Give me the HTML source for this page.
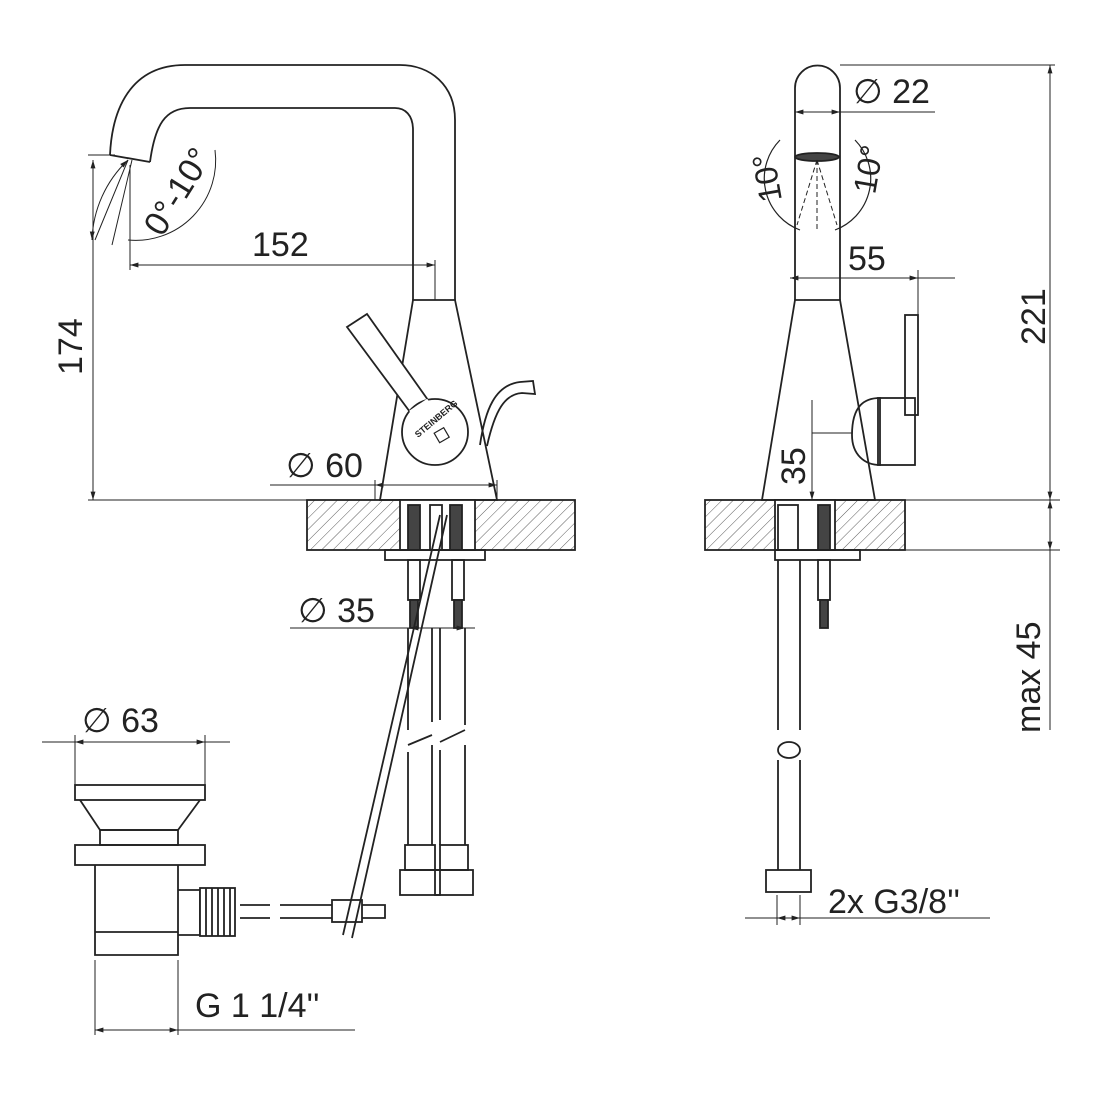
<!DOCTYPE html>
<html><head><meta charset="utf-8"><style>
html,body{margin:0;padding:0;background:#fff}
svg{display:block}
text{font-family:"Liberation Sans",sans-serif;fill:#222}
</style></head><body>
<svg width="1097" height="1097" viewBox="0 0 1097 1097" xmlns="http://www.w3.org/2000/svg">
<defs>
<pattern id="h" width="8" height="8" patternUnits="userSpaceOnUse" patternTransform="rotate(45)">
<line x1="0" y1="0" x2="0" y2="8" stroke="#333" stroke-width="0.8"/>
</pattern>
<marker id="a" viewBox="0 0 12 10" refX="12" refY="5" markerWidth="12" markerHeight="7" markerUnits="userSpaceOnUse" orient="auto-start-reverse"><path d="M0,1.5 L12,5 L0,8.5 Z" fill="#222"/></marker>
</defs>
<g fill="none" stroke="#222" stroke-width="1.8">
<!-- LEFT FAUCET -->
<path d="M110,155 C112,110 130,65 185,65 L400,65 C430,65 455,85 455,120 L455,300"/>
<path d="M150,162 C155,125 165,108 190,108 L395,108 C405,108 413,115 413,130 L413,300"/>
<path d="M110,155 L150,162"/>
<path d="M413,300 L455,300 L497,500 L380,500 Z"/>
<!-- lever -->
<path d="M410,412 L347,327 L367,314 L428,400" fill="#fff"/>
<circle cx="435" cy="432" r="33" fill="#fff"/>
<path d="M410,412 L428,400" stroke="#fff" stroke-width="3"/>
<text x="0" y="0" font-size="9" font-weight="bold" transform="translate(418,438) rotate(-40)" stroke="none">STEINBERG</text>
<rect x="436" y="430" width="11" height="11" transform="rotate(-30 441 435)" stroke-width="1.2"/>
<!-- pop-up rod -->
<path d="M480,445 C485,410 495,385 520,382 L533,381 L535,394 L522,393 C505,394 495,410 487,446"/>
<!-- countertop -->
<rect x="307" y="500" width="268" height="50" fill="url(#h)"/>
<rect x="400" y="500" width="75" height="50" fill="#fff"/>
<rect x="408" y="505" width="12" height="45" fill="#444"/>
<rect x="450" y="505" width="12" height="45" fill="#444"/>
<rect x="430" y="505" width="12" height="45"/>
<rect x="385" y="550" width="100" height="10"/>
<rect x="408" y="560" width="12" height="40"/><rect x="452" y="560" width="12" height="40"/>
<rect x="410" y="600" width="8" height="28" fill="#444"/><rect x="454" y="600" width="8" height="28" fill="#444"/>
<!-- hoses -->
<path d="M408,628 L408,730 M432,628 L432,722 M440,628 L440,720 M465,628 L465,725"/>
<path d="M408,752 L408,845 M432,745 L432,845 M440,750 L440,845 M465,745 L465,845"/>
<path d="M408,745 L432,735 M440,742 L465,730"/>
<rect x="405" y="845" width="30" height="25"/><rect x="440" y="845" width="28" height="25"/>
<rect x="400" y="870" width="40" height="25"/><rect x="435" y="870" width="38" height="25"/>
<!-- long rod -->
<path d="M440,515 L343,935 M447,515 L352,938"/>
<rect x="332" y="900" width="30" height="22"/>
<path d="M240,905 L270,905 M240,918 L270,918 M280,905 L332,905 M280,918 L332,918 M362,905 L385,905 L385,918 L362,918"/>
<!-- drain -->
<rect x="75" y="785" width="130" height="15"/>
<path d="M80,800 L100,830 L178,830 L200,800"/>
<rect x="100" y="830" width="78" height="15"/>
<rect x="75" y="845" width="130" height="20"/>
<path d="M95,865 L95,955 L178,955 L178,865 M95,932 L178,932"/>
<path d="M178,890 L200,890 L200,935 L178,935"/>
<rect x="200" y="888" width="35" height="48" fill="#fff"/>
<path d="M206,888 V936 M212,888 V936 M218,888 V936 M224,888 V936 M230,888 V936"/>
<!-- RIGHT FAUCET -->
<path d="M795,300 L795,88 A22.5,22.5 0 0 1 840,88 L840,300"/>
<path d="M795,300 L840,300 L875,500 L762,500 Z"/>
<ellipse cx="817" cy="157" rx="22" ry="4" fill="#444"/>
<path d="M817,160 L797,225 M817,160 L837,225 M817,160 L817,230" stroke-dasharray="5,3" stroke-width="1"/>
<path d="M780,140 A55,55 0 0 0 800,230" stroke-width="1.2"/>
<path d="M855,140 A55,55 0 0 1 835,230" stroke-width="1.2"/>
<path d="M852,435 C852,405 865,398 880,398 L880,465 C865,465 852,455 852,435 Z"/>
<rect x="878" y="398" width="37" height="67"/>
<rect x="905" y="315" width="13" height="100"/>
<rect x="705" y="500" width="200" height="50" fill="url(#h)"/>
<rect x="775" y="500" width="60" height="50" fill="#fff"/>
<rect x="778" y="505" width="20" height="45"/>
<rect x="818" y="505" width="12" height="45" fill="#444"/>
<rect x="775" y="550" width="85" height="10"/>
<rect x="818" y="560" width="12" height="40"/><rect x="820" y="600" width="8" height="28" fill="#444"/>
<path d="M778,560 V730 M800,560 V730 M778,760 V870 M800,760 V870"/>
<ellipse cx="789" cy="750" rx="11" ry="8"/>
<rect x="766" y="870" width="45" height="22"/>
</g>
<!-- DIMENSIONS -->
<g fill="none" stroke="#222" stroke-width="1">
<path d="M88,500 H500 M88,155 H115"/>
<path d="M93,160 V500" marker-start="url(#a)" marker-end="url(#a)"/>
<path d="M130,265 H435" marker-start="url(#a)" marker-end="url(#a)"/>
<path d="M130,165 V270 M435,260 V300"/>
<path d="M375,485 H497" marker-start="url(#a)" marker-end="url(#a)"/>
<path d="M270,485 H375 M375,480 V500 M497,480 V500"/>
<path d="M290,628 H408 M408,628 H475" />
<path d="M410,628 H465" marker-start="url(#a)" marker-end="url(#a)"/>
<path d="M75,742 H205" marker-start="url(#a)" marker-end="url(#a)"/>
<path d="M42,742 H230 M75,735 V785 M205,735 V785"/>
<path d="M95,1030 H178" marker-start="url(#a)" marker-end="url(#a)"/>
<path d="M95,960 V1035 M178,960 V1035 M178,1030 H355"/>
<path d="M128,160 A115,115 0 0 0 92,240" marker-start="url(#a)" marker-end="url(#a)"/>
<path d="M128,160 L95,240 M132,160 L112,245"/>
<path d="M128,240 A80,80 0 0 0 215,150"/>
<path d="M795,112 H840" marker-start="url(#a)" marker-end="url(#a)"/>
<path d="M795,112 H935 M840,65 H1055 M875,500 H1060 M905,550 H1060"/>
<path d="M1050,65 V500" marker-start="url(#a)" marker-end="url(#a)"/>
<path d="M1050,500 V550" marker-start="url(#a)" marker-end="url(#a)"/>
<path d="M1050,550 V730"/>
<path d="M790,278 H918" marker-start="url(#a)" marker-end="url(#a)"/>
<path d="M918,278 H955 M918,270 V315"/>
<path d="M812,400 V500" marker-end="url(#a)"/>
<path d="M812,433 H852"/>
<path d="M777,918 H800" marker-start="url(#a)" marker-end="url(#a)"/>
<path d="M745,918 H990 M777,895 V925 M800,895 V925"/>
</g>
<g font-size="34" stroke="none">
<text x="252" y="256">152</text>
<text x="0" y="0" transform="translate(82,375) rotate(-90)">174</text>
<text x="0" y="0" transform="translate(162,238) rotate(-58)">0°-10°</text>
<text x="286" y="477">∅ 60</text>
<text x="298" y="622">∅ 35</text>
<text x="82" y="732">∅ 63</text>
<text x="195" y="1017">G 1 1/4''</text>
<text x="853" y="103">∅ 22</text>
<text x="848" y="270">55</text>
<text x="0" y="0" transform="translate(1045,345) rotate(-90)">221</text>
<text x="0" y="0" transform="translate(805,485) rotate(-90)">35</text>
<text x="0" y="0" transform="translate(1040,733) rotate(-90)">max 45</text>
<text x="828" y="913">2x G3/8''</text>
<text x="0" y="0" font-size="32" transform="translate(782,200) rotate(-100)">10°</text>
<text x="0" y="0" font-size="32" transform="translate(875,195) rotate(-80)">10°</text>
</g>
</svg>
</body></html>
